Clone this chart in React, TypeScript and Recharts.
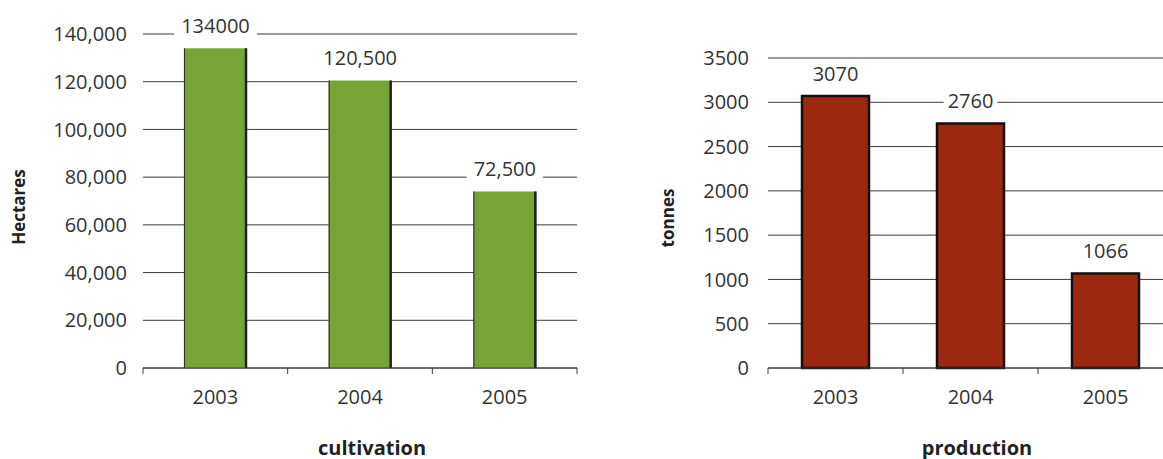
import React from 'react';
import { BarChart, Bar, XAxis, YAxis, CartesianGrid, LabelList, Label } from 'recharts';

const years = ['2003', '2004', '2005'];
const hectares = [134000, 120500, 74000];
const hectareLabels = ['134000', '120,500', '72,500'];
const hectareTicks = [0, 20000, 40000, 60000, 80000, 100000, 120000, 140000];
const tonnes = [3070, 2760, 1066];
const tonneLabels = ['3070', '2760', '1066'];
const tonneTicks = [0, 500, 1000, 1500, 2000, 2500, 3000, 3500];

const cultivationData = years.map((y, i) => ({ year: y, value: hectares[i], label: hectareLabels[i] }));
const productionData = years.map((y, i) => ({ year: y, value: tonnes[i], label: tonneLabels[i] }));

const FONT = '"Open Sans", "Noto Sans", sans-serif';
const TICK_COLOR = '#333';
const GRID = '#3a3a3a';
const FS = 20;

const textWidth = (s: string) => {
  let w = 0;
  for (const c of s) w += c === ',' ? 0.26 : 0.572;
  return w * FS;
};

const makeValueLabel = (labels: string[], padX: number) => (props: any) => {
  const { x, y, width, index } = props;
  const t = labels[index];
  const cx = x + width / 2;
  const cy = y - 23;
  const w = textWidth(t) + padX * 2;
  return (
    <g>
      <rect x={cx - w / 2} y={cy - 14} width={w} height={28} fill="#fff" />
      <text x={cx} y={cy} textAnchor="middle" dominantBaseline="central" fontSize={FS} fill={TICK_COLOR} fontFamily={FONT}>
        {t}
      </text>
    </g>
  );
};

const makeXTick = (band: number) => (props: any) => {
  const { x, y, payload } = props;
  const idx = payload.index ?? props.index ?? 0;
  const axisY = y - 22;
  const left = x - band / 2;
  const right = x + band / 2;
  return (
    <g>
      <line x1={left} x2={left} y1={axisY} y2={axisY + 6} stroke={GRID} strokeWidth={1} />
      {idx === years.length - 1 && (
        <line x1={right} x2={right} y1={axisY} y2={axisY + 6} stroke={GRID} strokeWidth={1} />
      )}
      <text x={x} y={y} dy="0.71em" textAnchor="middle" fontSize={FS} fill={TICK_COLOR} fontFamily={FONT}>
        {payload.value}
      </text>
    </g>
  );
};

const GreenBar = (props: any) => {
  const { x, y, width, height } = props;
  if (height <= 0) return null;
  return (
    <g>
      <rect x={x} y={y} width={width} height={height} fill="#78a337" />
      <line x1={x + 0.5} x2={x + 0.5} y1={y} y2={y + height} stroke="#333" strokeWidth={1.2} />
      <line x1={x + width - 1} x2={x + width - 1} y1={y} y2={y + height} stroke="#222" strokeWidth={2.5} />
    </g>
  );
};

const fmtComma = (v: number) => v.toLocaleString('en-US');

export default function App() {
  const leftW = 600;
  const rightLeft = 620;
  const rightW = 560;
  return (
    <div style={{ position: 'fixed', left: 0, top: 0, width: 1163, height: 459, overflow: 'hidden', background: '#fff' }}>
      <div style={{ position: 'absolute', left: 0, top: 0 }}>
        <BarChart width={leftW} height={459} data={cultivationData} margin={{ top: 34, right: 23, bottom: 0, left: 0 }}>
          <CartesianGrid vertical={false} stroke={GRID} strokeWidth={1} />
          <XAxis
            dataKey="year"
            height={91}
            tickLine={false}
            tickSize={6}
            tickMargin={16}
            axisLine={{ stroke: GRID, strokeWidth: 1 }}
            tick={makeXTick(434 / 3)}
            interval={0}
          >
            <Label
              content={() => (
                <text x={372} y={447} textAnchor="middle" dominantBaseline="central" fontSize={20} fontWeight="bold" fill="#222" fontFamily={FONT}>
                  cultivation
                </text>
              )}
            />
          </XAxis>
          <YAxis
            width={143}
            domain={[0, 140000]}
            ticks={hectareTicks}
            tickFormatter={fmtComma}
            axisLine={false}
            tickLine={false}
            tickSize={6}
            tickMargin={10}
            tick={{ fontSize: FS, fill: TICK_COLOR, fontFamily: FONT }}
          >
            <Label
              content={() => (
                <text x={18} y={207} transform="rotate(-90 18 207)" textAnchor="middle" dominantBaseline="central" fontSize={17} fontWeight="bold" fill="#222" fontFamily={FONT}>
                  Hectares
                </text>
              )}
            />
          </YAxis>
          <Bar dataKey="value" barSize={63} shape={GreenBar} isAnimationActive={false}>
            <LabelList dataKey="label" content={makeValueLabel(hectareLabels, 7)} />
          </Bar>
        </BarChart>
      </div>
      <div style={{ position: 'absolute', left: rightLeft, top: 0 }}>
        <BarChart width={rightW} height={459} data={productionData} margin={{ top: 58, right: 7, bottom: 0, left: 0 }}>
          <CartesianGrid vertical={false} stroke={GRID} strokeWidth={1} />
          <XAxis
            dataKey="year"
            height={91}
            tickLine={false}
            tickSize={6}
            tickMargin={16}
            axisLine={{ stroke: GRID, strokeWidth: 1 }}
            tick={makeXTick(405 / 3)}
            interval={0}
          >
            <Label
              content={() => (
                <text x={357} y={447} textAnchor="middle" dominantBaseline="central" fontSize={20} fontWeight="bold" fill="#222" fontFamily={FONT}>
                  production
                </text>
              )}
            />
          </XAxis>
          <YAxis
            width={148}
            domain={[0, 3500]}
            ticks={tonneTicks}
            axisLine={false}
            tickLine={false}
            tickSize={6}
            tickMargin={13}
            tick={{ fontSize: FS, fill: TICK_COLOR, fontFamily: FONT }}
          >
            <Label
              content={() => (
                <text x={47} y={218} transform="rotate(-90 47 218)" textAnchor="middle" dominantBaseline="central" fontSize={17} fontWeight="bold" fill="#222" fontFamily={FONT}>
                  tonnes
                </text>
              )}
            />
          </YAxis>
          <Bar dataKey="value" barSize={67} fill="#9c2810" stroke="#111" strokeWidth={2.5} isAnimationActive={false}>
            <LabelList dataKey="label" content={makeValueLabel(tonneLabels, 4)} />
          </Bar>
        </BarChart>
      </div>
    </div>
  );
}
